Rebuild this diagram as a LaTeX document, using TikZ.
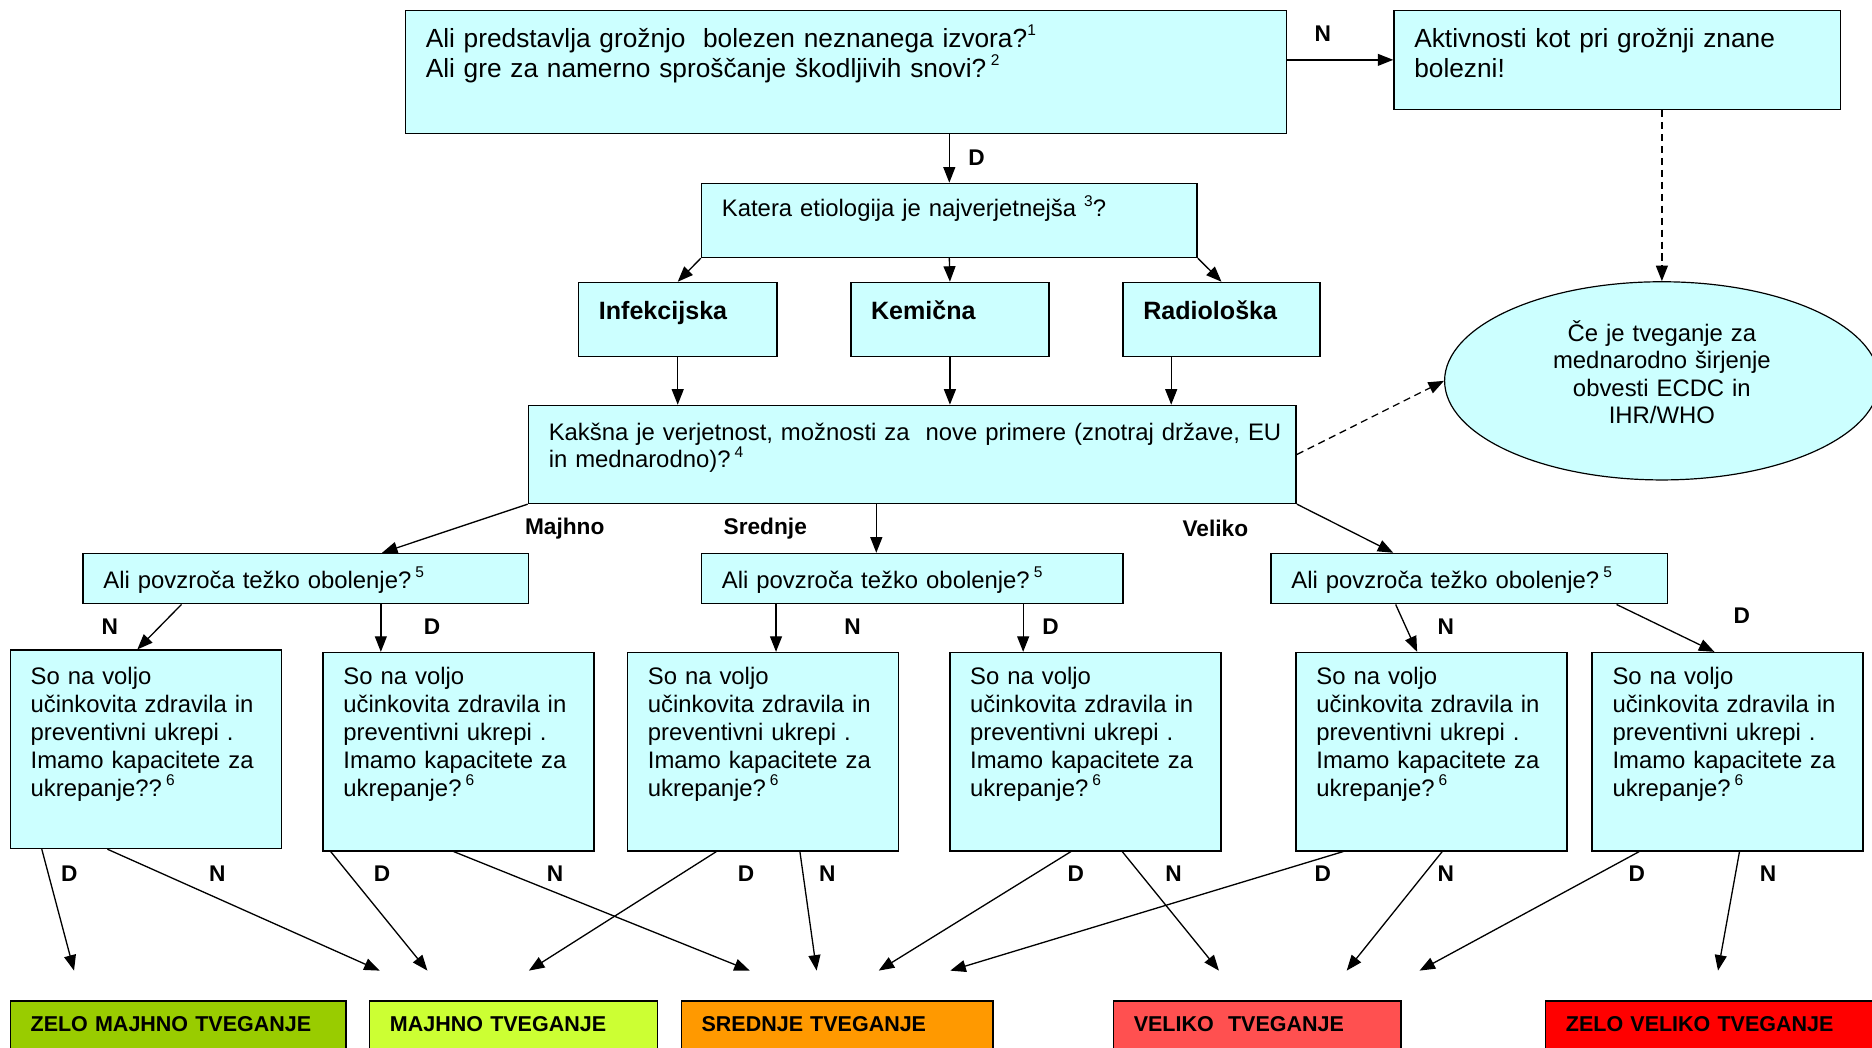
\documentclass[tikz,border=0pt]{standalone}
\usepackage{fontspec}
\setmainfont{Liberation Sans}
\usetikzlibrary{arrows.meta,shapes.geometric}
\definecolor{boxcyan}{HTML}{CCFFFF}
\definecolor{riskA}{HTML}{99CC00}
\definecolor{riskB}{HTML}{CCFF33}
\definecolor{riskC}{HTML}{FF9900}
\definecolor{riskD}{HTML}{FF5050}
\definecolor{riskE}{HTML}{FF0000}
\newcommand{\sups}[1]{\raisebox{0.45em}{\fontsize{13}{13}\selectfont #1}}

\begin{document}
\begin{tikzpicture}[x=1pt, y=-1pt, >={Triangle[length=13pt,width=10pt]},
    box/.style={draw, line width=1.3pt, fill=boxcyan, anchor=north west, align=left,
      inner xsep=17pt, inner ysep=0pt, font=\fontsize{20}{23.3}\selectfont},
    bigbox/.style={box, font=\fontsize{22}{25.3}\selectfont},
    kind/.style={box, font=\bfseries\fontsize{21}{24}\selectfont, text width=132pt,
      text height=31pt, text depth=31pt},
    askbox/.style={box, text height=29pt, text depth=13pt},
    capbox/.style={box, text width=193pt, text height=27pt, text depth=139pt},
    risk/.style={box, fill=#1, font=\bfseries\fontsize{18}{20}\selectfont,
      text height=25pt, text depth=30pt},
    tag/.style={font=\bfseries\fontsize{19}{19}\selectfont, inner sep=0pt},
    arr/.style={->, line width=1.1pt},
    dasharr/.style={arr, dash pattern=on 6pt off 4pt}]
    \useasboundingbox (0,0) rectangle (1568,877);

    % questions at the top
    \node[bigbox, text width=704pt, text height=31pt, text depth=72pt] (threat) at (339,8)
      {Ali predstavlja grožnjo\ \ bolezen neznanega izvora?\sups{1}\\Ali gre za namerno sproščanje škodljivih snovi?\,\sups{2}};
    \node[bigbox, text width=340pt, text height=31pt, text depth=52pt] (known) at (1167,8)
      {Aktivnosti kot pri grožnji znane\\bolezni!};
    \node[box, text width=381pt, text height=28pt, text depth=34pt] (etio) at (587,153)
      {Katera etiologija je najverjetnejša \sups{3}?};
    \node[kind] (inf) at (484,236) {Infekcijska};
    \node[kind] (chem) at (712,236) {Kemična};
    \node[kind, text width=131pt] (rad) at (940,236) {Radiološka};
    \node[box, text width=609pt, text height=29pt, text depth=53pt] (spread) at (442,339)
      {\mbox{Kakšna je verjetnost, možnosti za\ \ nove primere (znotraj države, EU}\\in mednarodno)?\,\sups{4}};
    \node[draw, line width=1pt, fill=boxcyan, ellipse, minimum width=364pt, minimum height=166pt,
      inner sep=0pt, align=center, text width=250pt, text height=15pt, text depth=81pt,
      font=\fontsize{20}{23}\selectfont] (ecdc) at (1392,319)
      {Če je tveganje za\\mednarodno širjenje\\obvesti ECDC in\\IHR/WHO};

    % severity
    \node[askbox, text width=339pt] (sev1) at (69,463) {Ali povzroča težko obolenje?\,\sups{5}};
    \node[askbox, text width=319pt] (sev2) at (587,463) {Ali povzroča težko obolenje?\,\sups{5}};
    \node[askbox, text width=298pt] (sev3) at (1064,463) {Ali povzroča težko obolenje?\,\sups{5}};

    % capacity
    \node[capbox, text height=29pt, text depth=137pt] (c1) at (8,544)
      {So na voljo\\učinkovita zdravila in\\preventivni ukrepi .\\Imamo kapacitete za\\ukrepanje??\,\sups{6}};
    \foreach \n/\x in {c2/270, c3/525, c4/795, c5/1085, c6/1333}
      \node[capbox] (\n) at (\x,546)
        {So na voljo\\učinkovita zdravila in\\preventivni ukrepi .\\Imamo kapacitete za\\ukrepanje?\,\sups{6}};

    % risk levels
    \node[risk=riskA, text width=247pt] (r1) at (8,838) {ZELO MAJHNO TVEGANJE};
    \node[risk=riskB, text width=207pt] (r2) at (309,838) {MAJHNO TVEGANJE};
    \node[risk=riskC, text width=227pt] (r3) at (570,838) {SREDNJE TVEGANJE};
    \node[risk=riskD, text width=207pt] (r4) at (932,838) {VELIKO\ \ TVEGANJE};
    \node[risk=riskE, text width=256pt] (r5) at (1294,838) {ZELO VELIKO TVEGANJE};

    % arrows
    \draw[arr] (known.west -| threat.east) -- (known.west);
    \draw[arr] (threat.south -| etio.north) -- (etio.north);
    \draw[arr] (etio.south west) -- (inf.north);
    \draw[arr] (etio.south) -- (chem.north);
    \draw[arr] (etio.south east) -- (rad.north);
    \draw[arr] (inf.south) -- (inf.south |- spread.north);
    \draw[arr] (chem.south) -- (chem.south |- spread.north);
    \draw[arr] ([xshift=41pt]rad.south west) coordinate (radout) -- (radout |- spread.north);
    \draw[dasharr] (known.south -| ecdc.north) -- (ecdc.north);
    \draw[dasharr] (spread.east) -- (ecdc.west);

    \draw[arr] (spread.south west) -- ([xshift=251pt]sev1.north west);
    \draw[arr] ([xshift=292pt]spread.south west) coordinate (midout) -- (midout |- sev2.north);
    \draw[arr] (spread.south east) -- ([xshift=103pt]sev3.north west);

    \draw[arr] ([xshift=83pt]sev1.south west) -- ([xshift=107pt]c1.north west);
    \draw[arr] ([xshift=250pt]sev1.south west) coordinate (s1d) -- (s1d |- c2.north);
    \draw[arr] ([xshift=63pt]sev2.south west) coordinate (s2n) -- (s2n |- c3.north);
    \draw[arr] ([xshift=270pt]sev2.south west) coordinate (s2d) -- (s2d |- c4.north);
    \draw[arr] ([xshift=105pt]sev3.south west) -- ([xshift=102pt]c5.north west);
    \draw[arr] ([xshift=290pt]sev3.south west) -- ([xshift=103pt]c6.north west);

    \coordinate (zm) at (62,813);
    \coordinate (m1) at (318,813);
    \coordinate (m2) at (358,813);
    \coordinate (m3) at (443,813);
    \coordinate (s1) at (628,813);
    \coordinate (s2) at (684,813);
    \coordinate (s3) at (736,813);
    \coordinate (s4) at (796,813);
    \coordinate (v1) at (1021,813);
    \coordinate (v2) at (1128,813);
    \coordinate (v3) at (1189,813);
    \coordinate (zv) at (1439,813);
    \foreach \src/\dx/\tip in {c1/27/zm, c1/82/m1, c2/7/m2, c2/110/s1, c3/75/m3, c3/145/s2,
        c4/102/s3, c4/145/v1, c5/40/s4, c5/123/v2, c6/40/v3, c6/124/zv}
      \draw[arr] ([xshift=\dx pt]\src.south west) -- (\tip);

    % labels
    \node[tag] (tn) at (1108,28) {N};
    \node[tag] (td) at (818,132) {D};
    \node[tag] (low) at (473,443) {Majhno};
    \node[tag] (mid) at (641,443) {Srednje};
    \node[tag] (high) at (1018,443) {Veliko};
    \foreach \x/\y/\t [count=\i] in {92/525/N, 362/525/D, 714/525/N, 880/525/D, 1211/525/N, 1459/516/D}
      \node[tag] (sl\i) at (\x,\y) {\t};
    \foreach \x/\t [count=\i] in {58/D, 182/N, 320/D, 465/N, 625/D, 693/N, 901/D, 983/N,
        1108/D, 1211/N, 1371/D, 1481/N}
      \node[tag] (cl\i) at (\x,732) {\t};
\end{tikzpicture}
\end{document}
